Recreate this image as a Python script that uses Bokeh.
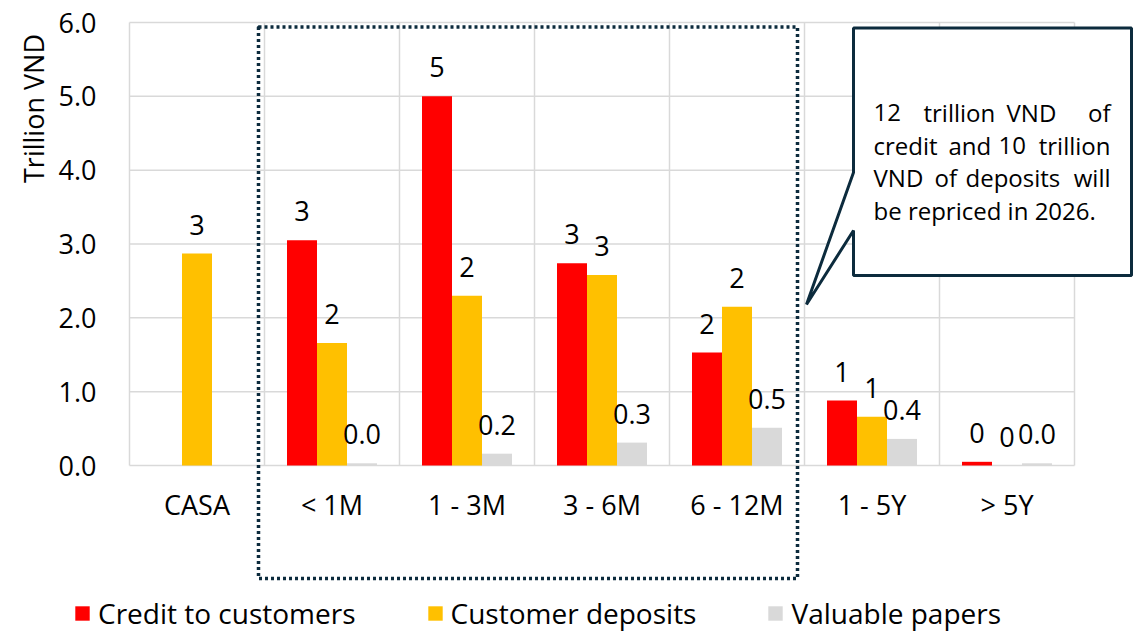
import math
from bokeh.plotting import figure
from bokeh.models import (ColumnDataSource, FixedTicker, Range1d, Legend, LegendItem,
                          PolyAnnotation, Label, PrintfTickFormatter)
from bokeh.core.properties import value
from bokeh.embed import file_html
from bokeh.resources import INLINE

# ---------------- data ----------------
categories = ["CASA", "< 1M", "1 - 3M", "3 - 6M", "6 - 12M", "1 - 5Y", "> 5Y"]
credit = [None, 3.05, 5.00, 2.74, 1.53, 0.88, 0.05]
deposits = [2.87, 1.66, 2.30, 2.58, 2.15, 0.66, 0.00]
papers = [None, 0.03, 0.16, 0.31, 0.51, 0.36, 0.03]
series_names = ["Credit to customers", "Customer deposits", "Valuable papers"]
series_colors = ["#FF0000", "#FFC000", "#D9D9D9"]
label_formats = ["{:.0f}", "{:.0f}", "{:.1f}"]
y_ticks = [0, 1, 2, 3, 4, 5, 6]
y_axis_title = "Trillion VND"
callout_lines = [
    ["12", "trillion", "VND", "of"],
    ["credit", "and", "10", "trillion"],
    ["VND", "of", "deposits", "will"],
    ["be repriced in 2026."],
]

FONT = "Open Sans"
NAVY = "#0C2B3D"
GRID = "#D9D9D9"

# ---------------- layout geometry (pixels) ----------------
W, H = 1140, 631
LEFT, RIGHT, TOP, BOTTOM = 129, 1074, 22, 465
n = len(categories)
cat_px = (RIGHT - LEFT) / n
unit_px = (BOTTOM - TOP) / (y_ticks[-1] - y_ticks[0])


def X(px):
    return (px - LEFT) / cat_px


def Y(py):
    return (BOTTOM - py) / unit_px


# the frame covers the whole canvas; axes are pinned with fixed_location
p = figure(width=W, height=H, output_backend="svg", toolbar_location=None,
           x_range=Range1d(X(0), X(W)), y_range=Range1d(Y(H), Y(0)),
           min_border_left=0, min_border_right=0, min_border_top=0, min_border_bottom=0)
p.outline_line_color = None
p.background_fill_color = "white"
p.border_fill_color = "white"
p.xgrid.visible = False
p.ygrid.visible = False

# gridlines limited to the plotting area (category boundaries and y ticks)
bounds = list(range(n + 1))
p.segment(x0=bounds, y0=[y_ticks[0]] * len(bounds), x1=bounds, y1=[y_ticks[-1]] * len(bounds),
          line_color=GRID, line_width=1.5)
p.segment(x0=[0] * len(y_ticks), y0=y_ticks, x1=[n] * len(y_ticks), y1=y_ticks,
          line_color=GRID, line_width=1.5)

# axes
centers = [i + 0.5 for i in range(n)]
p.xaxis.ticker = FixedTicker(ticks=centers)
p.xaxis.major_label_overrides = {c: lab for c, lab in zip(centers, categories)}
p.xaxis.fixed_location = 0
p.yaxis.ticker = FixedTicker(ticks=y_ticks)
p.yaxis.formatter = PrintfTickFormatter(format="%.1f")
p.yaxis.fixed_location = 0
for ax in (p.xaxis, p.yaxis):
    ax.axis_line_color = None
    ax.major_tick_line_color = None
    ax.minor_tick_line_color = None
    ax.major_label_text_font = FONT
    ax.major_label_text_font_size = "27px"
    ax.major_label_text_color = "#000000"
p.xaxis.major_label_standoff = 14
p.yaxis.major_label_standoff = 27

# bars + labels
bar_w = 30 / cat_px
offsets = [-bar_w, 0.0, bar_w]
items = []
for k, (vals, name, color, fmt) in enumerate(zip([credit, deposits, papers], series_names,
                                                  series_colors, label_formats)):
    xs, tops, labs = [], [], []
    for i, v in enumerate(vals):
        if v is None:
            continue
        xs.append(centers[i] + offsets[k])
        tops.append(v)
        labs.append(fmt.format(v))
    src = ColumnDataSource(dict(x=xs, top=tops, lab=labs))
    r = p.vbar(x="x", top="top", width=bar_w, bottom=0, source=src,
               fill_color=color, line_color=None)
    p.text(x="x", y="top", text="lab", source=src, text_align="center",
           text_baseline="middle", y_offset=-29, text_font=value(FONT),
           text_font_size="27px", text_color="#000000")
    items.append(LegendItem(label=name, renderers=[r]))

legend = Legend(items=items, location=(73, -1), orientation="horizontal",
                padding=0, margin=0, spacing=70, label_standoff=7,
                glyph_width=18, glyph_height=18,
                border_line_color=None, background_fill_alpha=0,
                label_text_font=FONT, label_text_font_size="28px",
                label_text_color="#000000")
p.add_layout(legend)

# y axis title (top-aligned like the original)
p.add_layout(Label(x=X(33), y=Y(108), text=y_axis_title, angle=math.pi / 2,
                   text_align="center", text_baseline="middle",
                   text_font=FONT, text_font_size="27px", text_color="#000000"))

# dotted highlight box
bx0, bx1, by0, by1 = X(258), X(797), Y(26.5), Y(578)
p.add_layout(PolyAnnotation(xs=[bx0, bx1, bx1, bx0], ys=[by0, by0, by1, by1],
                            fill_alpha=0, line_color=NAVY, line_alpha=1, line_width=3.5,
                            line_dash="3 3"))

# callout box with pointer
cl, cr, ct, cb = X(853), X(1131), Y(27.5), Y(275)
p.add_layout(PolyAnnotation(
    xs=[cl, cr, cr, cl, cl, X(806), cl],
    ys=[ct, ct, cb, cb, Y(230), Y(304), Y(172)],
    fill_color="white", fill_alpha=1, line_color=NAVY, line_alpha=1, line_width=3))

# callout text (justified)
line_base = [112, 144.5, 177, 209.5]
word_starts = [
    [873, 923, 1006, None],
    [873, 948, 998, None],
    [873, 934, 965, None],
    [873],
]
for words, starts, yb in zip(callout_lines, word_starts, line_base):
    for w, sx in zip(words, starts):
        if sx is None:
            p.add_layout(Label(x=X(1110), y=Y(yb), text=w, text_align="right",
                               text_baseline="alphabetic", text_font=FONT,
                               text_font_size="24px", text_color="#000000"))
        else:
            p.add_layout(Label(x=X(sx), y=Y(yb), text=w, text_align="left",
                               text_baseline="alphabetic", text_font=FONT,
                               text_font_size="24px", text_color="#000000"))

open("out.html", "w").write(file_html(p, INLINE))
